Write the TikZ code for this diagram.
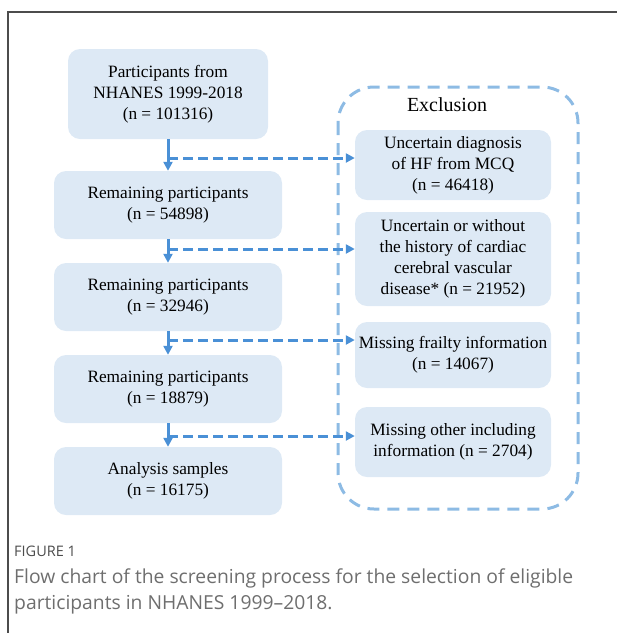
\documentclass[tikz,border=0pt]{standalone}
\usepackage{fontspec}
\setmainfont{Liberation Serif}
\newfontfamily\capfont{Open Sans}
\usetikzlibrary{arrows.meta}

\definecolor{boxfill}{HTML}{DDE9F5}
\definecolor{arrowblue}{HTML}{4A90D6}
\definecolor{exclblue}{HTML}{8DBBE4}
\definecolor{capgray}{HTML}{6E6E6E}

\begin{document}
\begin{tikzpicture}[x=1pt,y=-1pt,
    flowbox/.style={fill=boxfill,rounded corners=12pt,align=center,inner sep=0pt,
      font=\fontsize{17.3}{21}\selectfont},
    flowarrow/.style={draw=arrowblue,line width=3pt,-{Triangle[length=9pt,width=9pt]}},
    exclarrow/.style={flowarrow,dash pattern=on 10pt off 5pt}]

    \useasboundingbox (0,0) rectangle (617,633);

    % figure frame
    \draw[line width=1.3pt,black!70] (8,633) -- (8,12) -- (617,12);

    % participants from NHANES
    \node[flowbox,minimum width=200pt,minimum height=90pt] (p0) at (168,94)
        {Participants from\\NHANES 1999-2018\\(n = 101316)};

    % remaining participants
    \node[flowbox,minimum width=228pt,minimum height=68pt] (p1) at (168,205)
        {Remaining participants\\(n = 54898)};
    \node[flowbox,minimum width=228pt,minimum height=68pt] (p2) at (168,297)
        {Remaining participants\\(n = 32946)};
    \node[flowbox,minimum width=228pt,minimum height=68pt] (p3) at (168,389)
        {Remaining participants\\(n = 18879)};

    % analysis samples
    \node[flowbox,minimum width=228pt,minimum height=68pt] (p4) at (168,481)
        {Analysis samples\\(n = 16175)};

    %%%%%%%%%%%%%%%%%%%%%%%%%%%%%%%%%%%%%%%%%%%%%%%%%%%%%%%%%

    % exclusion frame
    \draw[exclblue,line width=3pt,dash pattern=on 12pt off 8pt,rounded corners=36pt]
        (338,87) rectangle (578,509);
    \node[font=\fontsize{20}{24}\selectfont] (excl) at (447,105) {Exclusion};

    % exclusion reasons
    \node[flowbox,minimum width=196pt,minimum height=70pt] (e1) at (453,165)
        {Uncertain diagnosis\\of HF from MCQ\\(n = 46418)};
    \node[flowbox,minimum width=196pt,minimum height=94pt] (e2) at (453,259)
        {Uncertain or without\\the history of cardiac\\cerebral vascular\\disease* (n = 21952)};
    \node[flowbox,minimum width=196pt,minimum height=66pt] (e3) at (453,355)
        {Missing frailty information\\(n = 14067)};
    \node[flowbox,minimum width=196pt,minimum height=70pt] (e4) at (453,442)
        {Missing other including\\information (n = 2704)};

    %%%%%%%%%%%%%%%%%%%%%%%%%%%%%%%%%%%%%%%%%%%%%%%%%%%%%%%%%

    % branch points
    \coordinate (j1) at (168,158);
    \coordinate (j2) at (168,249);
    \coordinate (j3) at (168,340);
    \coordinate (j4) at (168,436);

    % main flow
    \draw[flowarrow] (p0) -- (p1);
    \draw[flowarrow] (p1) -- (p2);
    \draw[flowarrow] (p2) -- (p3);
    \draw[flowarrow] (p3) -- (p4);

    % excluded
    \draw[exclarrow] (j1) -- (j1 -| e1.west);
    \draw[exclarrow] (j2) -- (j2 -| e2.west);
    \draw[exclarrow] (j3) -- (j3 -| e3.west);
    \draw[exclarrow] (j4) -- (j4 -| e4.west);

    %%%%%%%%%%%%%%%%%%%%%%%%%%%%%%%%%%%%%%%%%%%%%%%%%%%%%%%%%

    % caption
    \node[anchor=west,inner sep=0pt,text=black!70,font=\capfont\fontsize{14.5}{17}\selectfont]
        (fig) at (14,551) {FIGURE 1};
    \node[anchor=north west,inner sep=0pt,align=left,text=capgray,
        font=\capfont\fontsize{19.3}{25.5}\selectfont] (cap) at (14,569)
        {Flow chart of the screening process for the selection of eligible\\
         participants in NHANES 1999–2018.};

\end{tikzpicture}
\end{document}
